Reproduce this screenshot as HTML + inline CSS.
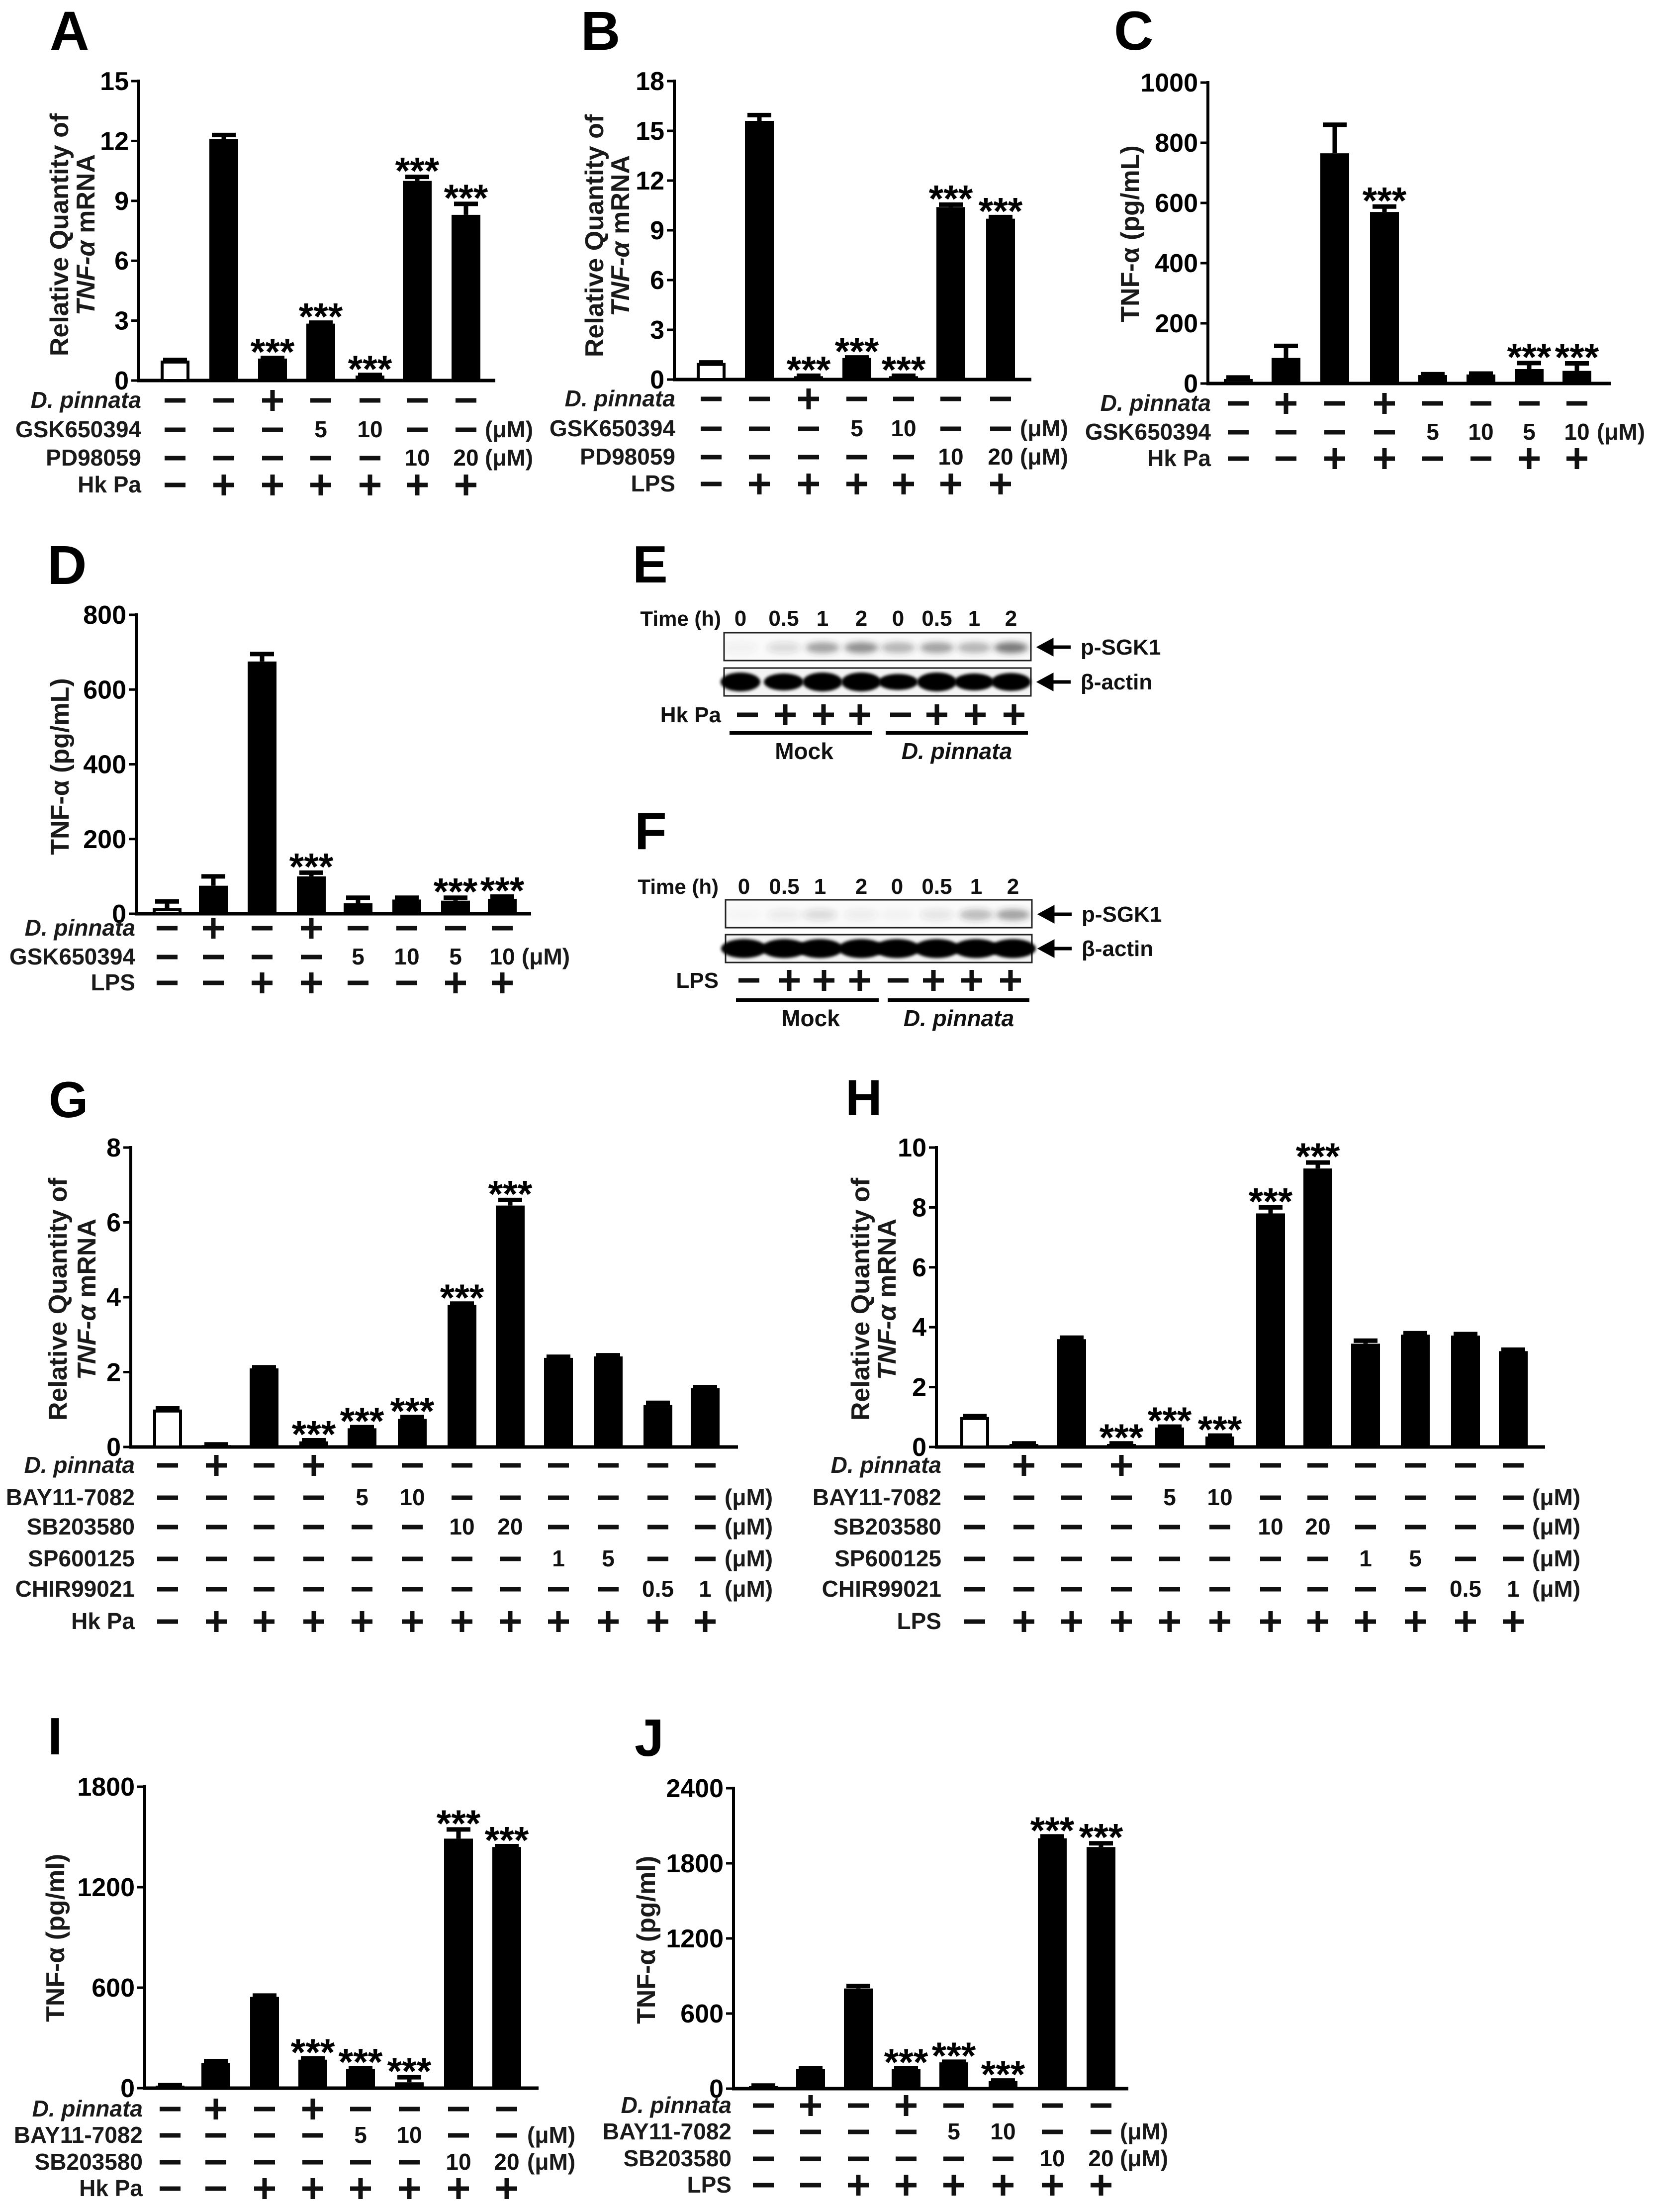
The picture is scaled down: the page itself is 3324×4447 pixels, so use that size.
<!DOCTYPE html>
<html><head><meta charset="utf-8"><title>TNF-alpha figure</title>
<style>
html,body{margin:0;padding:0;background:#fff;}
svg{display:block;font-family:"Liberation Sans",Arial,sans-serif;font-weight:bold;}
</style></head>
<body>
<svg id="fig" xmlns="http://www.w3.org/2000/svg" width="3324" height="4447" viewBox="0 0 3324 4447">
<defs>
<filter id="blur6" x="-50%" y="-50%" width="200%" height="200%"><feGaussianBlur stdDeviation="6"/></filter>
<filter id="blur3" x="-50%" y="-50%" width="200%" height="200%"><feGaussianBlur stdDeviation="3"/></filter>
</defs>
<rect x="0" y="0" width="3324" height="4447" fill="#fff"/>
</svg>
<script>
// ---------- DATA ----------
const aTicks=[0,3,6,9,12,15];
const aValues=[1.0,12.1,1.1,2.85,0.25,10.0,8.3];
const aErrors=[0.03,0.2,0.03,0.05,0.03,0.2,0.55];
const aStars=[0,0,1,1,1,1,1];
const aRowNames=["D. pinnata","GSK650394","PD98059","Hk Pa"];
const aRows=[["-","-","+","-","-","-","-"],["-","-","-","5","10","-","-"],["-","-","-","-","-","10","20"],["-","+","+","+","+","+","+"]];

const bTicks=[0,3,6,9,12,15,18];
const bValues=[1.0,15.6,0.2,1.3,0.2,10.4,9.7];
const bErrors=[0.03,0.35,0.03,0.03,0.03,0.15,0.1];
const bStars=[0,0,1,1,1,1,1];
const bRowNames=["D. pinnata","GSK650394","PD98059","LPS"];
const bRows=[["-","-","+","-","-","-","-"],["-","-","-","5","10","-","-"],["-","-","-","-","-","10","20"],["-","+","+","+","+","+","+"]];

const cTicks=[0,200,400,600,800,1000];
const cValues=[15,85,765,570,28,30,48,42];
const cErrors=[5,40,95,18,3,3,20,25];
const cStars=[0,0,0,1,0,0,1,1];
const cRowNames=["D. pinnata","GSK650394","Hk Pa"];
const cRows=[["-","+","-","+","-","-","-","-"],["-","-","-","-","5","10","5","10"],["-","-","+","+","-","-","+","+"]];

const dTicks=[0,200,400,600,800];
const dValues=[15,75,675,100,28,38,35,40];
const dErrors=[18,25,20,10,15,5,8,6];
const dStars=[0,0,0,1,0,0,1,1];
const dRowNames=["D. pinnata","GSK650394","LPS"];
const dRows=[["-","+","-","+","-","-","-","-"],["-","-","-","-","5","10","5","10"],["-","-","+","+","-","-","+","+"]];

const gTicks=[0,2,4,6,8];
const gValues=[1.0,0.05,2.1,0.15,0.5,0.75,3.8,6.45,2.38,2.42,1.12,1.57];
const gErrors=[0.03,0.02,0.03,0.03,0.03,0.05,0.03,0.15,0.03,0.03,0.06,0.03];
const gStars=[0,0,0,1,1,1,1,1,0,0,0,0];
const gRowNames=["D. pinnata","BAY11-7082","SB203580","SP600125","CHIR99021","Hk Pa"];
const gRows=[["-","+","-","+","-","-","-","-","-","-","-","-"],["-","-","-","-","5","10","-","-","-","-","-","-"],["-","-","-","-","-","-","10","20","-","-","-","-"],["-","-","-","-","-","-","-","-","1","5","-","-"],["-","-","-","-","-","-","-","-","-","-","0.5","1"],["-","+","+","+","+","+","+","+","+","+","+","+"]];

const hTicks=[0,2,4,6,8,10];
const hValues=[1.0,0.1,3.6,0.1,0.65,0.35,7.8,9.3,3.45,3.75,3.72,3.2];
const hErrors=[0.03,0.02,0.05,0.02,0.03,0.03,0.2,0.2,0.1,0.05,0.05,0.05];
const hStars=[0,0,0,1,1,1,1,1,0,0,0,0];
const hRowNames=["D. pinnata","BAY11-7082","SB203580","SP600125","CHIR99021","LPS"];
const hRows=[["-","+","-","+","-","-","-","-","-","-","-","-"],["-","-","-","-","5","10","-","-","-","-","-","-"],["-","-","-","-","-","-","10","20","-","-","-","-"],["-","-","-","-","-","-","-","-","1","5","-","-"],["-","-","-","-","-","-","-","-","-","-","0.5","1"],["-","+","+","+","+","+","+","+","+","+","+","+"]];

const iTicks=[0,600,1200,1800];
const iValues=[15,150,545,170,115,35,1490,1440];
const iErrors=[3,12,8,8,5,30,55,5];
const iStars=[0,0,0,1,1,1,1,1];
const iRowNames=["D. pinnata","BAY11-7082","SB203580","Hk Pa"];
const iRows=[["-","+","-","+","-","-","-","-"],["-","-","-","-","5","10","-","-"],["-","-","-","-","-","-","10","20"],["-","-","+","+","+","+","+","+"]];

const jTicks=[0,600,1200,1800,2400];
const jValues=[20,155,800,155,210,60,2000,1930];
const jErrors=[5,8,20,8,5,5,15,30];
const jStars=[0,0,0,1,1,1,1,1];
const jRowNames=["D. pinnata","BAY11-7082","SB203580","LPS"];
const jRows=[["-","+","-","+","-","-","-","-"],["-","-","-","-","5","10","-","-"],["-","-","-","-","-","-","10","20"],["-","-","+","+","+","+","+","+"]];

const timeLabels=["0","0.5","1","2","0","0.5","1","2"];
const eSgk=[0.05,0.15,0.45,0.55,0.35,0.45,0.35,0.65];
const eActin=[1,0.9,1,1,0.85,1,0.9,0.95];
const eTreat=["-","+","+","+","-","+","+","+"];
const fSgk=[0.02,0.08,0.15,0.07,0.03,0.1,0.3,0.45];
const fActin=[1,1,1,1,1,1,1,1];
const fTreat=["-","+","+","+","-","+","+","+"];

// ---------- RENDER ----------
const NS="http://www.w3.org/2000/svg";
const svg=document.getElementById("fig");
function mk(tag,attrs,parent){const e=document.createElementNS(NS,tag);for(const k in attrs)e.setAttribute(k,attrs[k]);(parent||svg).appendChild(e);return e;}
function txt(s,attrs,parent){const e=mk("text",attrs,parent);e.textContent=s;return e;}

function marker(sym,cx,base,g){
  const cy=base-15;
  if(sym==="-"){
    const r=mk("rect",{x:cx-21,y:cy-4.5,width:42,height:9,fill:"#111"},g);
    
    
  } else if(sym==="+"){
    const r1=mk("rect",{x:cx-21,y:cy-4.5,width:42,height:9,fill:"#111"},g);
    
    
    const r2=mk("rect",{x:cx-4.5,y:cy-21,width:9,height:42,fill:"#111"},g);
    
    
  } else {
    const t=txt(sym,{x:cx,y:base,"text-anchor":"middle","font-size":46,fill:"#111"},g);
    
    
  }
}

function panel(p,ticks,values,errors,stars,rowNames,rows){
  const g=mk("g",{});
  
  
  const maxV=ticks[ticks.length-1];
  const Y=v=>p.y0-v/maxV*(p.y0-p.ytop);
  const L=txt(p.letter,{x:p.lx,y:p.ly,"font-size":p.lf||110,fill:"#000"},g);
  
  
  const ya=mk("line",{x1:p.ax,y1:p.ytop-3,x2:p.ax,y2:p.y0+3,stroke:"#000","stroke-width":6},g);
  
  
  const xa=mk("line",{x1:p.ax-3,y1:p.y0,x2:p.xEnd,y2:p.y0,stroke:"#000","stroke-width":7},g);
  
  
  ticks.forEach(t=>{
    const tl=mk("line",{x1:p.ax-15,y1:Y(t),x2:p.ax,y2:Y(t),stroke:"#000","stroke-width":5},g);
    
    
    const tt=txt(String(t),{x:p.ax-20,y:Y(t)+18,"text-anchor":"end","font-size":p.tf||52,fill:"#000"},g);
    
    
  });
  const tg=mk("g",{},g);
  
  
  if(p.titleX.length===2){
    const t1=txt("Relative Quantity of",{x:0,y:0,"text-anchor":"middle","font-size":p.yf||52,fill:"#1a1a1a",transform:`translate(${p.titleX[0]+18},${p.titleY}) rotate(-90)`},tg);
    
    
    const t2=mk("text",{x:0,y:0,"text-anchor":"middle","font-size":p.yf||52,fill:"#1a1a1a",transform:`translate(${p.titleX[1]+18},${p.titleY}) rotate(-90)`},tg);
    
    
    const s1=mk("tspan",{"font-style":"italic"},t2); s1.textContent="TNF-\u03B1";
    const s2=mk("tspan",{},t2); s2.textContent=" mRNA";
  } else {
    const t1=txt(p.titleText,{x:0,y:0,"text-anchor":"middle","font-size":p.yf||52,fill:"#1a1a1a",transform:`translate(${p.titleX[0]+18},${p.titleY}) rotate(-90)`},tg);
    
    
  }
  values.forEach((v,i)=>{
    const c=p.bars[i];
    const top=Y(v);
    let r;
    if(i===0){
      r=mk("rect",{x:c-26,y:top+3,width:52,height:Math.max(p.y0-top-3,1),fill:"#fff",stroke:"#000","stroke-width":6},g);
    } else {
      r=mk("rect",{x:c-29,y:top,width:58,height:p.y0-top,fill:"#000"},g);
    }
    
    
    const et=Y(v+errors[i]);
    const eb=mk("path",{d:`M${c},${top} L${c},${et} M${c-24},${et} L${c+24},${et}`,stroke:"#000","stroke-width":9,fill:"none"},g);
    
    
    if(stars[i]){
      const st=txt("***",{x:c,y:et+14,"text-anchor":"middle","font-size":76,fill:"#000"},g);
      
      
    }
  });
  rows.forEach((row,ri)=>{
    const base=p.rows[ri];
    const lab=txt(rowNames[ri],{x:p.labelX,y:base,"text-anchor":"end","font-size":46,fill:"#1a1a1a","font-style":ri===0?"italic":"normal"},g);
    
    
    row.forEach((s,ci)=>marker(s,p.bars[ci],base,g));
    if(p.umRows.indexOf(ri)>=0){
      const u=txt("(\u03BCM)",{x:p.umX,y:base,"font-size":46,fill:"#1a1a1a"},g);
      
      
    }
  });
}

panel({id:"a",letter:"A",lx:100,ly:100,ax:279,y0:765,ytop:163,xEnd:996,bars:[352,450,548,645,744,839,937],rows:[820,879,936,990],labelX:284,umX:975,umRows:[1,2],titleX:[119,172],titleY:472},aTicks,aValues,aErrors,aStars,aRowNames,aRows);
panel({id:"b",letter:"B",lx:1168,ly:100,ax:1356,y0:763,ytop:163,xEnd:2074,bars:[1430,1527,1626,1723,1817,1912,2012],rows:[817,877,934,988],labelX:1358,umX:2051,umRows:[1,2],titleX:[1195,1247],titleY:474},bTicks,bValues,bErrors,bStars,bRowNames,bRows);
panel({id:"c",letter:"C",lx:2240,ly:100,ax:2429,y0:771,ytop:166,xEnd:3239,bars:[2490,2586,2684,2784,2881,2978,3075,3171],rows:[826,884,937],labelX:2435,umX:3211,umRows:[1],titleX:[2272],titleY:470,titleText:"TNF-\u03B1 (pg/mL)"},cTicks,cValues,cErrors,cStars,cRowNames,cRows);
panel({id:"d",letter:"D",lx:95,ly:1174,ax:274,y0:1837,ytop:1236,xEnd:1068,bars:[336,429,527,626,720,818,916,1010],rows:[1881,1939,1991],labelX:272,umX:1049,umRows:[1],titleX:[120],titleY:1541,titleText:"TNF-\u03B1 (pg/mL)"},dTicks,dValues,dErrors,dStars,dRowNames,dRows);
panel({id:"g",letter:"G",lx:98,ly:2246,lf:102,ax:263,y0:2909,ytop:2307,xEnd:1484,bars:[337,435,531,631,728,829,929,1026,1123,1223,1323,1418],rows:[2961,3026,3085,3149,3210,3275],labelX:271,umX:1457,umRows:[1,2,3,4],titleX:[116,174],titleY:2612},gTicks,gValues,gErrors,gStars,gRowNames,gRows);
panel({id:"h",letter:"H",lx:1700,ly:2242,lf:102,ax:1883,y0:2909,ytop:2307,xEnd:3107,bars:[1960,2059,2155,2255,2352,2453,2555,2650,2746,2846,2947,3043],rows:[2961,3026,3085,3149,3210,3275],labelX:1893,umX:3081,umRows:[1,2,3,4],titleX:[1730,1783],titleY:2612},hTicks,hValues,hErrors,hStars,hRowNames,hRows);
panel({id:"i",letter:"I",lx:96,ly:3527,lf:106,ax:291,y0:4198,ytop:3592,xEnd:1083,bars:[342,434,532,629,725,823,922,1019],rows:[4255,4308,4362,4415],labelX:287,umX:1060,umRows:[1,2],titleX:[111],titleY:3896,titleText:"TNF-\u03B1 (pg/ml)"},iTicks,iValues,iErrors,iStars,iRowNames,iRows);
panel({id:"j",letter:"J",lx:1276,ly:3530,lf:106,ax:1475,y0:4199,ytop:3595,xEnd:2269,bars:[1535,1630,1726,1822,1918,2017,2116,2214],rows:[4248,4301,4355,4408],labelX:1471,umX:2252,umRows:[1,2],titleX:[1299],titleY:3900,titleText:"TNF-\u03B1 (pg/ml)"},jTicks,jValues,jErrors,jStars,jRowNames,jRows);

// ---------- WESTERN BLOTS ----------
function blot(b,sgk,actin,treat){
  const g=mk("g",{});
  
  
  const L=txt(b.letter,{x:b.lx,y:b.ly,"font-size":106,fill:"#000"},g);
  
  
  const tl=txt("Time (h)",{x:b.labelX,y:b.timeY,"text-anchor":"end","font-size":42,fill:"#111"},g);
  
  
  b.lanes.forEach((x,i)=>{
    const t=txt(timeLabels[i],{x:x,y:b.timeY,"text-anchor":"middle","font-size":44,fill:"#111"},g);
    
    
  });
  const box1=mk("rect",{x:b.bx1,y:b.y1,width:b.bx2-b.bx1,height:56,fill:"#fafafa",stroke:"#222","stroke-width":3},g);
  
  
  const box2=mk("rect",{x:b.bx1,y:b.y2,width:b.bx2-b.bx1,height:56,fill:"#f4f4f4",stroke:"#222","stroke-width":3},g);
  
  
  b.lanes.forEach((x,i)=>{
    const s=mk("ellipse",{cx:x,cy:b.y1+30,rx:34,ry:11,fill:"#333","fill-opacity":sgk[i],filter:"url(#blur6)"},g);
    
    
    const a=mk("ellipse",{cx:x,cy:b.y2+28,rx:b.arx,ry:19*actin[i],fill:"#000",filter:"url(#blur3)"},g);
    
    
  });
  [[b.y1+29,"p-SGK1"],[b.y2+28,"\u03B2-actin"]].forEach(([y,s])=>{
    const ar=mk("path",{d:`M${b.arrX+62},${y} L${b.arrX+18},${y} M${b.arrX},${y} L${b.arrX+24},${y-13} L${b.arrX+24},${y+13} Z`,stroke:"#000","stroke-width":7,fill:"#000"},g);
    
    
    const t=txt(s,{x:b.arrX+82,y:y+15,"font-size":44,fill:"#111"},g);
    
    
  });
  const tr=txt(b.treat,{x:b.labelX,y:b.trY,"text-anchor":"end","font-size":44,fill:"#111"},g);
  
  
  b.marks.forEach((x,i)=>marker(treat[i],x,b.trY,g));
  b.lines.forEach(([x1,x2])=>{
    const r=mk("rect",{x:x1,y:b.ulY-3,width:x2-x1,height:7,fill:"#000"},g);
    
    
  });
  const m=txt("Mock",{x:b.mockX,y:b.grpY,"text-anchor":"middle","font-size":46,fill:"#111"},g);
  
  
  const d=txt("D. pinnata",{x:b.dpX,y:b.grpY,"text-anchor":"middle","font-size":46,"font-style":"italic",fill:"#111"},g);
  
  
}
blot({id:"e",letter:"E",lx:1272,ly:1171,labelX:1450,timeY:1258,lanes:[1489,1576,1654,1732,1806,1884,1959,2033],bx1:1456,bx2:2073,y1:1272,y2:1343,arx:40,arrX:2091,treat:"Hk Pa",trY:1452,marks:[1503,1579,1656,1729,1811,1884,1961,2039],lines:[[1467,1753],[1781,2067]],ulY:1473,mockX:1617,dpX:1924,grpY:1526},eSgk,eActin,eTreat);
blot({id:"f",letter:"F",lx:1276,ly:1707,labelX:1445,timeY:1797,lanes:[1496,1577,1649,1732,1804,1884,1963,2037],bx1:1459,bx2:2075,y1:1809,y2:1879,arx:46,arrX:2093,treat:"LPS",trY:1986,marks:[1506,1587,1657,1729,1806,1877,1954,2032],lines:[[1480,1767],[1785,2070]],ulY:2010,mockX:1630,dpX:1928,grpY:2063},fSgk,fActin,fTreat);
</script>
</body></html>
